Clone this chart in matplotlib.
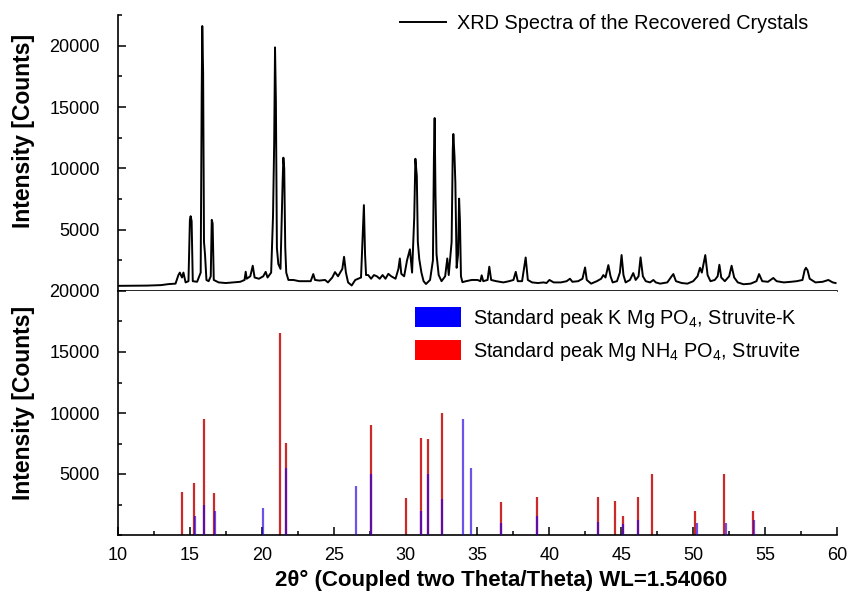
import matplotlib
matplotlib.use('Agg')
import matplotlib.pyplot as plt
from matplotlib.patches import Patch
from matplotlib.lines import Line2D
from matplotlib.ticker import MultipleLocator, FixedLocator

plt.rcParams['font.family'] = ['Liberation Sans', 'DejaVu Sans']
plt.rcParams['mathtext.fontset'] = 'custom'
plt.rcParams['mathtext.rm'] = 'Liberation Sans'

# ---------------- data ----------------
# XRD trace of the recovered crystals (2theta, counts)
two_theta = [10.0, 11.0, 12.0, 13.0, 13.5, 14.0, 14.2, 14.3, 14.45, 14.55, 14.7, 14.9,
             15.0, 15.05, 15.12, 15.2, 15.5, 15.75, 15.82, 15.86, 15.92, 15.98, 16.05,
             16.15, 16.3, 16.45, 16.52, 16.58, 16.66, 17.0, 17.5, 18.0, 18.5, 18.8,
             18.88, 18.95, 19.2, 19.37, 19.5, 19.8, 20.1, 20.27, 20.4, 20.65, 20.78,
             20.86, 20.92, 20.98, 21.05, 21.15, 21.3, 21.45, 21.5, 21.56, 21.63, 21.7,
             21.85, 22.2, 22.6, 23.0, 23.4, 23.58, 23.7, 24.0, 24.4, 24.6, 24.9, 25.09,
             25.3, 25.6, 25.72, 25.85, 26.0, 26.25, 26.5, 26.9, 27.03, 27.1, 27.18,
             27.25, 27.4, 27.6, 27.8, 28.0, 28.2, 28.4, 28.6, 28.8, 29.0, 29.3, 29.5,
             29.6, 29.7, 29.9, 30.1, 30.3, 30.45, 30.6, 30.68, 30.78, 30.85, 30.95,
             31.1, 31.25, 31.42, 31.7, 31.9, 31.97, 32.02, 32.08, 32.15, 32.3, 32.5,
             32.75, 32.9, 33.0, 33.2, 33.28, 33.32, 33.4, 33.46, 33.55, 33.65, 33.72,
             33.78, 33.85, 33.95, 34.2, 34.6, 35.0, 35.2, 35.29, 35.4, 35.7, 35.82,
             35.95, 36.3, 36.8, 37.2, 37.5, 37.66, 37.8, 38.1, 38.35, 38.5, 38.8, 39.2,
             39.6, 39.8, 40.0, 40.3, 40.8, 41.2, 41.43, 41.6, 42.0, 42.3, 42.48, 42.6,
             42.9, 43.3, 43.6, 43.75, 43.9, 44.1, 44.25, 44.4, 44.7, 44.9, 45.02, 45.15,
             45.3, 45.6, 45.83, 46.0, 46.2, 46.34, 46.5, 46.7, 47.0, 47.23, 47.4, 47.7,
             48.2, 48.5, 48.62, 48.8, 49.2, 49.6, 50.0, 50.3, 50.47, 50.6, 50.84, 51.0,
             51.2, 51.5, 51.7, 51.82, 51.95, 52.2, 52.5, 52.67, 52.85, 53.1, 53.5, 54.0,
             54.4, 54.58, 54.8, 55.2, 55.57, 55.8, 56.3, 56.8, 57.2, 57.6, 57.75, 57.84,
             57.95, 58.1, 58.5, 59.0, 59.4, 59.7, 59.9]
counts = [420, 430, 440, 480, 560, 600, 1300, 1500, 1100, 1500, 700, 800,
          5800, 6100, 5700, 800, 750, 1500, 16000, 21600, 17800, 4000, 3000,
          900, 800, 1200, 5800, 5500, 900, 700, 650, 700, 750, 900,
          1570, 1000, 1200, 2060, 1100, 1000, 1200, 1560, 1100, 1500, 6100,
          12000, 19860, 15500, 3500, 2200, 1800, 9000, 10870, 10000, 3550, 1500,
          900, 900, 800, 800, 800, 1380, 900, 850, 900, 700, 1100, 1540,
          1200, 1800, 2790, 1500, 700, 450, 900, 1100, 5000, 7000, 3000,
          1300, 1300, 1000, 1300, 1200, 1000, 1300, 1000, 1400, 1200, 1000, 1800,
          2650, 1400, 1200, 2500, 3400, 1500, 6000, 10780, 9380, 4000, 2600,
          1500, 800, 570, 900, 2500, 11000, 14100, 7750, 3000, 1300, 800,
          1200, 2650, 1300, 4000, 11500, 12800, 11000, 8830, 1890, 3000, 7530,
          5700, 1200, 720, 800, 900, 900, 800, 1280, 800, 900, 1980,
          900, 800, 700, 800, 900, 1560, 800, 800, 2730, 900, 700, 650,
          700, 650, 900, 700, 700, 800, 1000, 750, 800, 1000, 1920, 900,
          600, 800, 1000, 1300, 1100, 2110, 1200, 700, 800, 1500, 2930, 1300,
          700, 900, 1460, 900, 1200, 2740, 1200, 800, 700, 900, 700, 600,
          700, 1200, 1380, 800, 650, 600, 800, 1200, 1890, 1500, 2930, 1300,
          800, 900, 1200, 2140, 1100, 800, 1200, 2060, 1100, 700, 550, 600,
          800, 1380, 800, 750, 1060, 800, 700, 750, 800, 900, 1700, 1890,
          1700, 1000, 700, 750, 900, 700, 650]

# Standard peaks: Mg NH4 PO4 (Struvite)
struvite_pos = [14.47, 15.26, 15.95, 16.70, 21.27, 21.68, 27.57, 30.03, 31.05, 31.56,
                32.56, 36.66, 39.13, 43.40, 44.58, 45.10, 46.18, 47.13, 50.13, 52.14, 54.14]
struvite_int = [3500, 4250, 9540, 3440, 16530, 7560, 8990, 3030, 7990, 7830,
                10020, 2680, 3110, 3110, 2810, 1540, 3110, 4980, 2000, 4980, 2000]

# Standard peaks: K Mg PO4 (Struvite-K)
struvk_pos = [15.35, 15.95, 16.72, 20.10, 21.68, 26.53, 27.57, 31.05, 31.56, 32.56,
              34.02, 34.55, 36.66, 39.13, 43.40, 45.14, 46.18, 50.29, 52.28, 54.24]
struvk_int = [1540, 2490, 2000, 2220, 5530, 4030, 4980, 2000, 4980, 2980,
              9540, 5470, 1000, 1540, 1060, 920, 1220, 1000, 1000, 1220]

x_ticks = [10, 15, 20, 25, 30, 35, 40, 45, 50, 55, 60]
y_ticks = [5000, 10000, 15000, 20000]

# ---------------- figure ----------------
W, H = 853, 597
fig = plt.figure(figsize=(W / 100, H / 100), dpi=100)
left = 118 / W
width = (837 - 118) / W
ax1 = fig.add_axes([left, 1 - 291 / H, width, (291 - 15) / H])
ax2 = fig.add_axes([left, 1 - 535 / H, width, (535 - 291) / H])

ax1.plot(two_theta, counts, color='black', lw=1.4,
         label='XRD Spectra of the Recovered Crystals')
ax1.set_xlim(10, 60)
ax1.set_ylim(0, 22500)

ax2.vlines(struvite_pos, 0, struvite_int, color='#cc2a2a', lw=1.6,
           capstyle='butt', zorder=2)
ax2.vlines(struvk_pos, 0, struvk_int, color='#2a00e0', lw=1.6, alpha=0.68,
           capstyle='butt', zorder=3)
ax2.set_xlim(10, 60)
ax2.set_ylim(0, 20000)

for ax in (ax1, ax2):
    ax.spines['top'].set_visible(False)
    ax.spines['right'].set_visible(False)
    ax.spines['left'].set_linewidth(1.2)
    ax.spines['bottom'].set_linewidth(1.2)
    ax.yaxis.set_major_locator(FixedLocator(y_ticks))
    ax.yaxis.set_minor_locator(MultipleLocator(2500))
    ax.tick_params(which='major', direction='in', length=5.8, width=1.1,
                   labelsize=13, pad=13)
    ax.tick_params(which='minor', direction='in', length=2.9, width=1.1)

ax1.tick_params(axis='x', which='both', bottom=False, labelbottom=False)
ax2.xaxis.set_major_locator(FixedLocator(x_ticks))
ax2.xaxis.set_minor_locator(MultipleLocator(2.5))
ax2.tick_params(axis='x', which='major', pad=9)

# legends
ax1.legend(handles=[Line2D([], [], color='black', lw=1.4)],
           labels=['XRD Spectra of the Recovered Crystals'],
           loc='upper left', bbox_to_anchor=(400 / W, 1 - 14 / H),
           bbox_transform=fig.transFigure, frameon=False, fontsize=14.3,
           handlelength=2.3, handletextpad=0.55, borderpad=0, borderaxespad=0)

handles = [Patch(facecolor='#0000ff', edgecolor='none'),
           Patch(facecolor='#ff0000', edgecolor='none')]
labels = [r'Standard peak K Mg PO$_\mathregular{4}$, Struvite-K',
          r'Standard peak Mg NH$_\mathregular{4}$ PO$_\mathregular{4}$, Struvite']
ax2.legend(handles=handles, labels=labels, loc='upper left',
           bbox_to_anchor=(415 / W, 1 - 307 / H), bbox_transform=fig.transFigure,
           frameon=False, fontsize=14.3, handlelength=2.3, handleheight=1.15,
           handletextpad=0.6, labelspacing=0.5, borderpad=0, borderaxespad=0)

# axis titles
fig.text(24 / W, 1 - 131 / H, 'Intensity [Counts]', rotation=90, ha='center',
         va='center', fontsize=16.5, fontweight='bold')
fig.text(24 / W, 1 - 403 / H, 'Intensity [Counts]', rotation=90, ha='center',
         va='center', fontsize=16.5, fontweight='bold')
fig.text(501 / W, 1 - 580 / H, '2θ° (Coupled two Theta/Theta) WL=1.54060',
         ha='center', va='center', fontsize=16, fontweight='bold')

fig.savefig('out.png', dpi=100)
